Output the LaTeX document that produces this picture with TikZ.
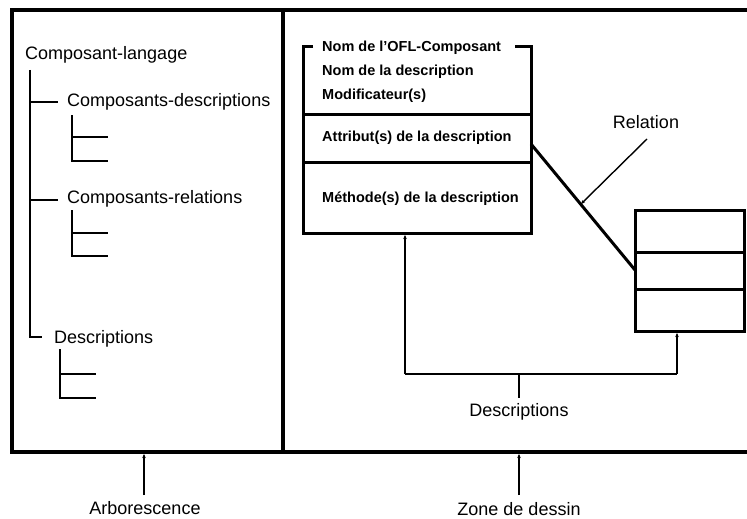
\documentclass[tikz,border=0pt]{standalone}
\usepackage{fontspec}
\setmainfont{Liberation Sans}
\usetikzlibrary{arrows.meta}
\begin{document}
\begin{tikzpicture}[x=1pt,y=-1pt,
  frame/.style={line width=4pt},
  boxline/.style={line width=3pt},
  tree/.style={line width=1.6pt},
  arr/.style={line width=1.4pt,-{Stealth[length=4pt,width=3.5pt]}},
  lbl/.style={inner sep=0pt,font=\fontsize{18}{20}\selectfont},
  btxt/.style={inner sep=0pt,anchor=west,font=\fontsize{14.5}{16}\selectfont\bfseries},
]
\useasboundingbox (0,0) rectangle (747,519);
% frame
\draw[frame] (760,10) -- (12,10) -- (12,452) -- (760,452);
\draw[frame] (283,10) -- (283,452);
% tree
\node[lbl,anchor=west] (cl) at (25,55) {Composant-langage};
\node[lbl,anchor=west] (cd) at (67,102) {Composants-descriptions};
\node[lbl,anchor=west] (cr) at (67,199) {Composants-relations};
\node[lbl,anchor=west] (de) at (54,339) {Descriptions};
\coordinate (t0) at (30,70);
\draw[tree] (t0) -- (30,337) -- (42,337);
\draw[tree] (30,102) -- (58,102);
\draw[tree] (30,200) -- (58,200);
\draw[tree] (72,115) -- (72,161) -- (108,161);
\draw[tree] (72,137) -- (108,137);
\draw[tree] (72,210) -- (72,256) -- (108,256);
\draw[tree] (72,233) -- (108,233);
\draw[tree] (60,349) -- (60,398) -- (96,398);
\draw[tree] (60,374) -- (96,374);
% main box
\draw[boxline] (313,47) -- (303,47) -- (303,233) -- (531,233) -- (531,47) -- (515,47);
\draw[boxline] (303,114) -- (531,114);
\draw[boxline] (303,162) -- (531,162);
\node[btxt] (n1) at (322,48) {Nom de l'OFL-Composant};
\node[btxt] (n2) at (322,72) {Nom de la description};
\node[btxt] (n3) at (322,96) {Modificateur(s)};
\node[btxt] (n4) at (322,138) {Attribut(s) de la description};
\node[btxt] (n5) at (322,199) {Méthode(s) de la description};
% relation box
\draw[boxline] (635,210) rectangle (744,331);
\draw[boxline] (635,252) -- (744,252);
\draw[boxline] (635,289) -- (744,289);
\coordinate (r1) at (531,144);
\coordinate (r2) at (635,270);
\draw[boxline] (r1) -- (r2);
\node[lbl] (rel) at (646,122) {Relation};
\coordinate (ra) at (647,139);
\coordinate (rb) at (581,204);
\draw[arr] (ra) -- (rb);
% descriptions bracket
\coordinate (dl) at (405,374);
\coordinate (dr) at (677,374);
\draw[line width=1.4pt] (dl) -- (dr);
\draw[arr] (dl) -- (405,235);
\draw[arr] (dr) -- (677,333);
\draw[line width=1.4pt] (519,374) -- (519,398);
\node[lbl] (dd) at (519,412) {Descriptions};
% bottom labels
\node[lbl] (arb) at (145,508) {Arborescence};
\node[lbl] (zd) at (519,509) {Zone de dessin};
\draw[arr] (144,495) -- (144,454);
\draw[arr] (519,495) -- (519,454);
\end{tikzpicture}
\end{document}
